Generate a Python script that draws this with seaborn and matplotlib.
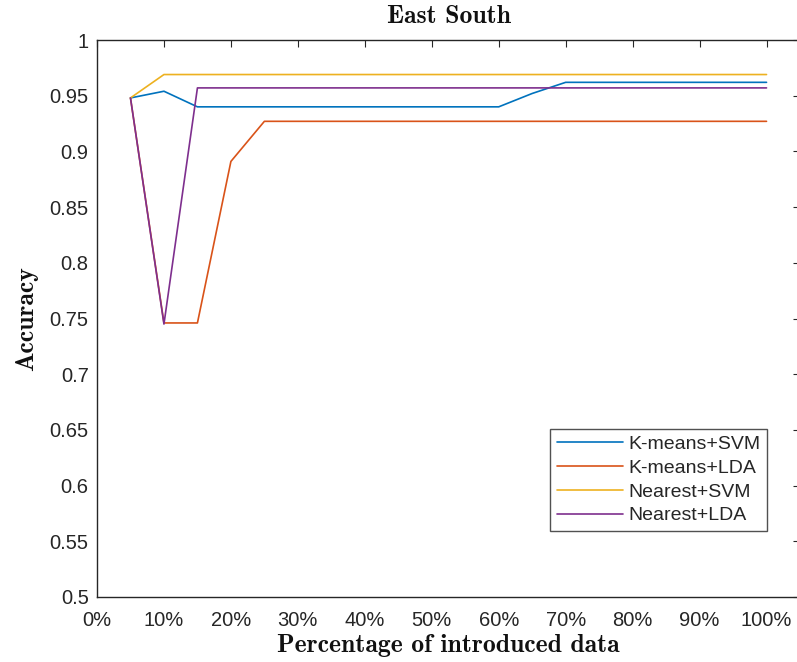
import matplotlib
matplotlib.use('Agg')
import matplotlib.pyplot as plt
import seaborn as sns
import numpy as np
import pandas as pd

# --------------------- Data ---------------------------------------
pct = [5, 10, 15, 20, 25, 30, 35, 40, 45, 50,
       55, 60, 65, 70, 75, 80, 85, 90, 95, 100]
kmeans_svm = [0.948, 0.954, 0.940, 0.940, 0.940, 0.940, 0.940, 0.940, 0.940, 0.940,
              0.940, 0.940, 0.952, 0.962, 0.962, 0.962, 0.962, 0.962, 0.962, 0.962]
kmeans_lda = [0.948, 0.746, 0.746, 0.891, 0.927, 0.927, 0.927, 0.927, 0.927, 0.927,
              0.927, 0.927, 0.927, 0.927, 0.927, 0.927, 0.927, 0.927, 0.927, 0.927]
nearest_svm = [0.948, 0.969, 0.969, 0.969, 0.969, 0.969, 0.969, 0.969, 0.969, 0.969,
               0.969, 0.969, 0.969, 0.969, 0.969, 0.969, 0.969, 0.969, 0.969, 0.969]
nearest_lda = [0.948, 0.745, 0.957, 0.957, 0.957, 0.957, 0.957, 0.957, 0.957, 0.957,
               0.957, 0.957, 0.957, 0.957, 0.957, 0.957, 0.957, 0.957, 0.957, 0.957]
methods = ['K-means+SVM', 'K-means+LDA', 'Nearest+SVM', 'Nearest+LDA']
x_ticks = [0, 10, 20, 30, 40, 50, 60, 70, 80, 90, 100]
y_ticks = [0.5, 0.55, 0.6, 0.65, 0.7, 0.75, 0.8, 0.85, 0.9, 0.95, 1.0]

df = pd.DataFrame({
    'pct': pct * 4,
    'acc': kmeans_svm + kmeans_lda + nearest_svm + nearest_lda,
    'method': np.repeat(methods, len(pct)),
})

# matlab default colours
palette = ['#0072BD', '#D95319', '#EDB120', '#7E2F8E']

# ----------- Plot -----------
sns.set_style('white')
plt.rcParams['font.family'] = ['Liberation Sans', 'DejaVu Sans']
axcol = '#262626'

fig = plt.figure(figsize=(7.97, 6.62), dpi=100)
ax = fig.add_axes([97 / 797, 1 - 597 / 662, 703 / 797, 557 / 662])
sns.lineplot(data=df, x='pct', y='acc', hue='method', palette=palette,
             linewidth=1.2, ax=ax, legend=True)

ax.set_xlim(0, 105)
ax.set_ylim(0.5, 1.0)
ax.set_xticks(x_ticks)
ax.set_xticklabels(['{0}%'.format(t) for t in x_ticks])
ax.set_yticks(y_ticks)
ax.set_yticklabels(['{0:g}'.format(t) for t in y_ticks])
ax.tick_params(direction='in', length=5, width=0.8, colors=axcol,
               labelcolor=axcol, labelsize=14.5, top=True, right=True)
ax.tick_params(axis='y', pad=6)
ax.tick_params(axis='x', pad=10)
for s in ax.spines.values():
    s.set_color(axcol)
    s.set_linewidth(1.0)

cm = dict(family='cmb10', color='#111111')
ax.set_title('East South', fontsize=18.5, pad=12, **cm)
ax.set_xlabel('Percentage of introduced data', fontsize=18.5, labelpad=3, **cm)
ax.set_ylabel('Accuracy', fontsize=18.5, labelpad=8, **cm)

leg = ax.legend(loc='lower right', bbox_to_anchor=(0.953, 0.118),
                fontsize=14, handlelength=3.4, frameon=True, fancybox=False,
                borderpad=0.35, labelspacing=0.32, handletextpad=0.26,
                borderaxespad=0)
leg.get_frame().set_edgecolor(axcol)
leg.get_frame().set_linewidth(1.0)

plt.savefig('out.png', dpi=100)
